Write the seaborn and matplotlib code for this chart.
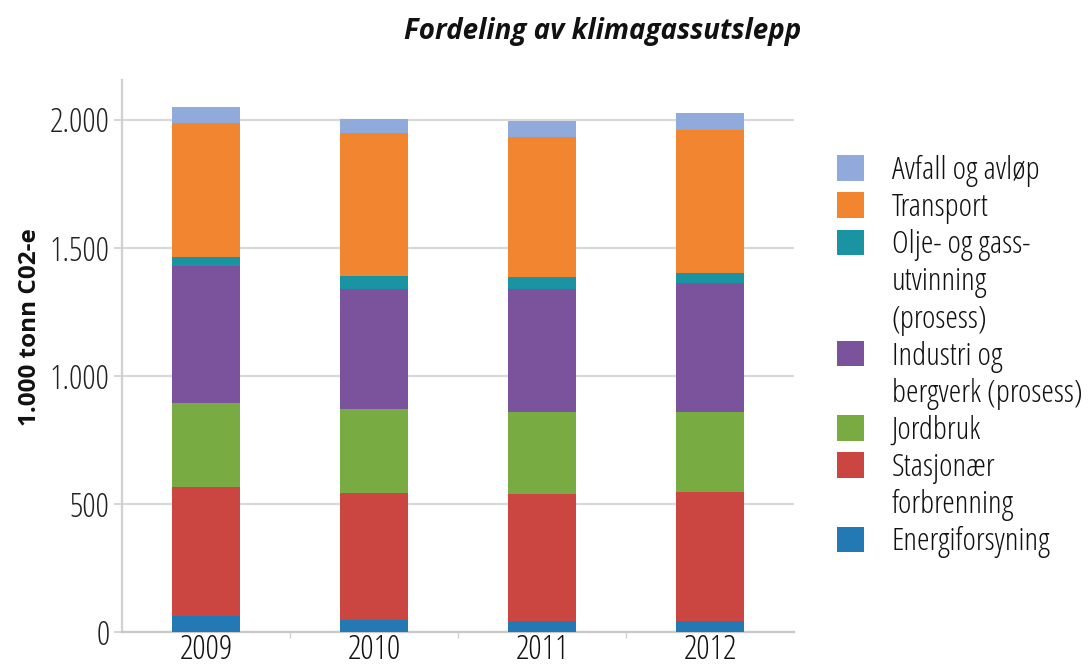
import numpy as np
import pandas as pd
import matplotlib
matplotlib.use("Agg")
import matplotlib.pyplot as plt
from matplotlib.patches import Patch
import seaborn as sns

sns.set_theme(style="white")
plt.rcParams["font.family"] = ["Open Sans", "DejaVu Sans"]
plt.rcParams["font.stretch"] = "condensed"

# data (1000 tonn CO2-e)
years = ["2009", "2010", "2011", "2012"]
energi = [61, 46, 43, 43]
stasjonaer = [505, 495, 495, 504]
jordbruk = [328, 328, 321, 310]
industri = [534, 472, 482, 506]
olje = [37, 48, 43, 37]
transport = [521, 560, 547, 560]
avfall = [62, 55, 62, 65]

# stacking order bottom -> top
series = [
    ("Energiforsyning", energi, "#2379B4"),
    ("Stasjonær\nforbrenning", stasjonaer, "#CB4541"),
    ("Jordbruk", jordbruk, "#78AB42"),
    ("Industri og\nbergverk (prosess)", industri, "#7B529C"),
    ("Olje- og gass-\nutvinning\n(prosess)", olje, "#1A93A3"),
    ("Transport", transport, "#F28530"),
    ("Avfall og avløp", avfall, "#8FAADB"),
]

fig = plt.figure(figsize=(10.89, 6.69), dpi=100)
ax = fig.add_axes([122 / 1089, 1 - 632 / 669, (794 - 122) / 1089, (632 - 80) / 669])

# cumulative totals drawn from the top layer down so each smaller one covers the last
cum = np.cumsum([s[1] for s in series], axis=0)
for i in range(len(series) - 1, -1, -1):
    df = pd.DataFrame({"year": years, "value": cum[i]})
    sns.barplot(data=df, x="year", y="value", color=series[i][2], width=0.4,
                saturation=1, errorbar=None, ax=ax, zorder=3,
                edgecolor="none", linewidth=0)

ax.set_ylim(0, 2155)
ax.set_xlim(-0.5, 3.5)
ax.set_yticks([0, 500, 1000, 1500, 2000])
ax.set_yticklabels(["0", "500", "1.000", "1.500", "2.000"])
ax.yaxis.grid(True, color="#d9d9d9", linewidth=1.6, zorder=0)
ax.set_axisbelow(True)
ax.set_xlabel("")
ax.set_ylabel("1.000 tonn C02-e", fontsize=17.5, fontweight="bold", color="#111111")
ax.yaxis.set_label_coords(-0.119, 0.553)

for s in ["top", "right"]:
    ax.spines[s].set_visible(False)
ax.spines["left"].set_color("#d0d0d0")
ax.spines["left"].set_linewidth(1.6)
ax.spines["bottom"].set_color("#c8c8c8")
ax.spines["bottom"].set_linewidth(1.6)

ax.tick_params(axis="y", length=6, width=1.6, color="#d9d9d9", labelsize=24,
               labelcolor="#222222", pad=3, left=True)
ax.tick_params(axis="x", length=0, labelsize=24, labelcolor="#111111", pad=1)
ax.set_xticks([0.5, 1.5, 2.5], minor=True)
ax.tick_params(axis="x", which="minor", length=4, width=1, color="#d0d0d0", bottom=True)

# legend: swatch on the first line of each label, continuation lines without swatch
handles, labels = [], []
for name, _, color in series[::-1]:
    lines = name.split("\n")
    handles.append(Patch(facecolor=color, edgecolor="none"))
    labels.append(lines[0])
    for extra in lines[1:]:
        handles.append(Patch(facecolor="none", edgecolor="none"))
        labels.append(extra)

fig.legend(handles, labels, loc="upper left", bbox_to_anchor=(837 / 1089, 1 - 155 / 669),
           bbox_transform=fig.transFigure, frameon=False, fontsize=23,
           handlelength=0.85, handleheight=0.85, handletextpad=0.86,
           labelspacing=0.16, borderpad=0, borderaxespad=0, labelcolor="#111111")

fig.text(603 / 1089, 1 - 31 / 669, "Fordeling av klimagassutslepp", ha="center", va="center",
         fontsize=20, fontweight="bold", fontstyle="italic", fontstretch="normal",
         family=["Open Sans", "DejaVu Sans"], color="#111111")

fig.savefig("out.png", dpi=100, facecolor="white")
